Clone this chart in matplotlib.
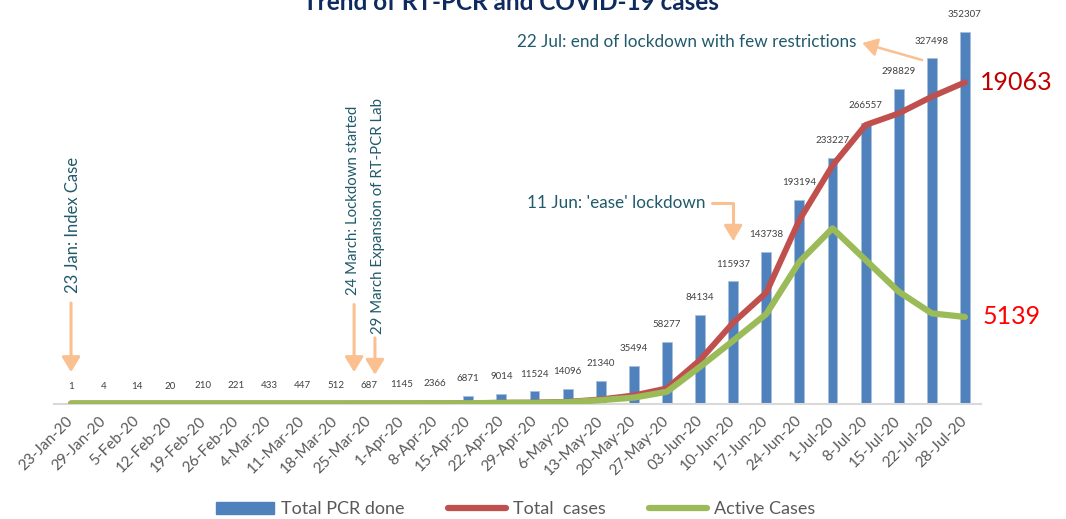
import matplotlib.pyplot as plt
from matplotlib.patches import Patch
from matplotlib.lines import Line2D

plt.rcParams['font.family'] = ['Lato', 'DejaVu Sans']

dates = ['23-Jan-20', '29-Jan-20', '5-Feb-20', '12-Feb-20', '19-Feb-20', '26-Feb-20',
         '4-Mar-20', '11-Mar-20', '18-Mar-20', '25-Mar-20', '1-Apr-20', '8-Apr-20',
         '15-Apr-20', '22-Apr-20', '29-Apr-20', '6-May-20', '13-May-20', '20-May-20',
         '27-May-20', '03-Jun-20', '10-Jun-20', '17-Jun-20', '24-Jun-20', '1-Jul-20',
         '8-Jul-20', '15-Jul-20', '22-Jul-20', '28-Jul-20']
pcr_done = [1, 4, 14, 20, 210, 221, 433, 447, 512, 687, 1145, 2366, 6871, 9014,
            11524, 14096, 21340, 35494, 58277, 84134, 115937, 143738, 193194,
            233227, 266557, 298829, 327498, 352307]
total_cases = [1, 1, 1, 1, 1, 1, 1, 1, 1, 3, 5, 9, 16, 45, 57, 99, 242, 480, 900,
               2580, 4800, 6580, 10890, 14125, 16530, 17220, 18210, 19063]
active_cases = [1, 1, 1, 1, 1, 1, 1, 1, 1, 2, 4, 8, 15, 40, 40, 80, 200, 350, 700,
                2180, 3730, 5310, 8410, 10400, 8520, 6640, 5350, 5139]

BAR = '#4F81BD'
RED = '#C0504D'
GREEN = '#9BBB59'
PEACH = '#FAC090'
TEAL = '#215A6A'
GREY = '#595959'

fig = plt.figure(figsize=(10.66, 5.19), dpi=100, facecolor='white')
ax = fig.add_axes([0.0511, 0.2225, 0.8696, 0.7389])
x = list(range(len(dates)))

ax.bar(x, pcr_done, width=0.3, color=BAR, edgecolor='#A7C0DE', linewidth=0.6, zorder=2)
for xi, v in zip(x, pcr_done):
    ax.annotate(str(v), xy=(xi, v), xytext=(0, 12.5), textcoords='offset points',
                ha='center', va='center', fontsize=7, color='#404040')

ax.set_xlim(-0.5, len(dates) - 0.5)
ax.set_ylim(0, 364000)
ax.set_xticks(x)
ax.set_xticklabels(dates, rotation=45, ha='right', va='center',
                   rotation_mode='anchor', fontsize=11, color=GREY)
ax.tick_params(axis='x', length=0, pad=11)
ax.set_yticks([])
for s in ['top', 'right', 'left']:
    ax.spines[s].set_visible(False)
ax.spines['bottom'].set_color('#D9D9D9')
ax.spines['bottom'].set_linewidth(1.5)

# secondary axis for cases
ax2 = ax.twinx()
ax2.plot(x, total_cases, color=RED, linewidth=4.3, solid_capstyle='round', zorder=3)
ax2.plot(x, active_cases, color=GREEN, linewidth=4.5, solid_capstyle='round', zorder=4)
ax2.set_ylim(0, 22760)
ax2.set_yticks([])
for s in ax2.spines.values():
    s.set_visible(False)

ax2.annotate(f'{total_cases[-1]}', xy=(x[-1], total_cases[-1]), xytext=(11, 0),
             textcoords='offset points', ha='left', va='center', fontsize=18,
             color='#C00000')
ax2.annotate(f'{active_cases[-1]}', xy=(x[-1], active_cases[-1]), xytext=(13, 0),
             textcoords='offset points', ha='left', va='center', fontsize=18,
             color='#FF0000')

# event annotations
arrow = dict(arrowstyle='-|>,head_length=0.9,head_width=0.55', color=PEACH, lw=2.2,
             shrinkA=0, shrinkB=0)
mixed = ('data', 'axes fraction')
xfrac = ax.get_xaxis_transform()

ax.text(0.06, 0.465, '23 Jan: Index Case', rotation=90, ha='center', va='center',
        transform=xfrac, fontsize=12, color=TEAL)
ax.annotate('', xy=(0, 0.082), xytext=(0, 0.262), xycoords=mixed, arrowprops=arrow)

ax.text(8.52, 0.531, '24 March: Lockdown started', rotation=90, ha='center', va='center',
        transform=xfrac, fontsize=10.8, color=TEAL)
ax.annotate('', xy=(8.55, 0.082), xytext=(8.55, 0.258), xycoords=mixed, arrowprops=arrow)

ax.text(9.26, 0.489, '29 March Expansion of RT-PCR Lab', rotation=90, ha='center',
        va='center', transform=xfrac, fontsize=10.8, color=TEAL)
ax.annotate('', xy=(9.18, 0.075), xytext=(9.18, 0.171), xycoords=mixed, arrowprops=arrow)

ax.text(19.15, 0.5228, "11 Jun: 'ease' lockdown", ha='right', va='center',
        transform=xfrac, fontsize=12.3, color=TEAL)
ax.annotate('', xy=(20, 0.4245), xytext=(19.37, 0.5228), xycoords=mixed,
            arrowprops=dict(arrow, connectionstyle='angle,angleA=0,angleB=90,rad=0'))

ax.text(23.72, 0.9426, '22 Jul: end of lockdown with few restrictions', ha='right',
        va='center', transform=xfrac, fontsize=12.3, color=TEAL)
ax.annotate('', xy=(23.9, 0.940), xytext=(25.71, 0.8957), xycoords=mixed,
            arrowprops=dict(arrow, lw=1.8))

fig.text(0.479, 1 - 10 / 519, 'Trend of RT-PCR and COVID-19 cases', ha='center',
         va='baseline', fontsize=17.5, fontweight='bold', color='#0F2A5E')

handles = [Patch(facecolor=BAR, edgecolor=BAR),
           Line2D([0], [0], color=RED, lw=4.5, solid_capstyle='round'),
           Line2D([0], [0], color=GREEN, lw=4.5, solid_capstyle='round')]
leg = fig.legend(handles, ['Total PCR done', 'Total  cases', 'Active Cases'],
                 loc='center', bbox_to_anchor=(0.484, 0.019), ncol=3, frameon=False,
                 fontsize=13, handlelength=3.2, handleheight=0.6, columnspacing=2.4,
                 handletextpad=0.4, borderaxespad=0, borderpad=0)
for t in leg.get_texts():
    t.set_color(GREY)

fig.savefig('out.png', dpi=100, facecolor='white')
